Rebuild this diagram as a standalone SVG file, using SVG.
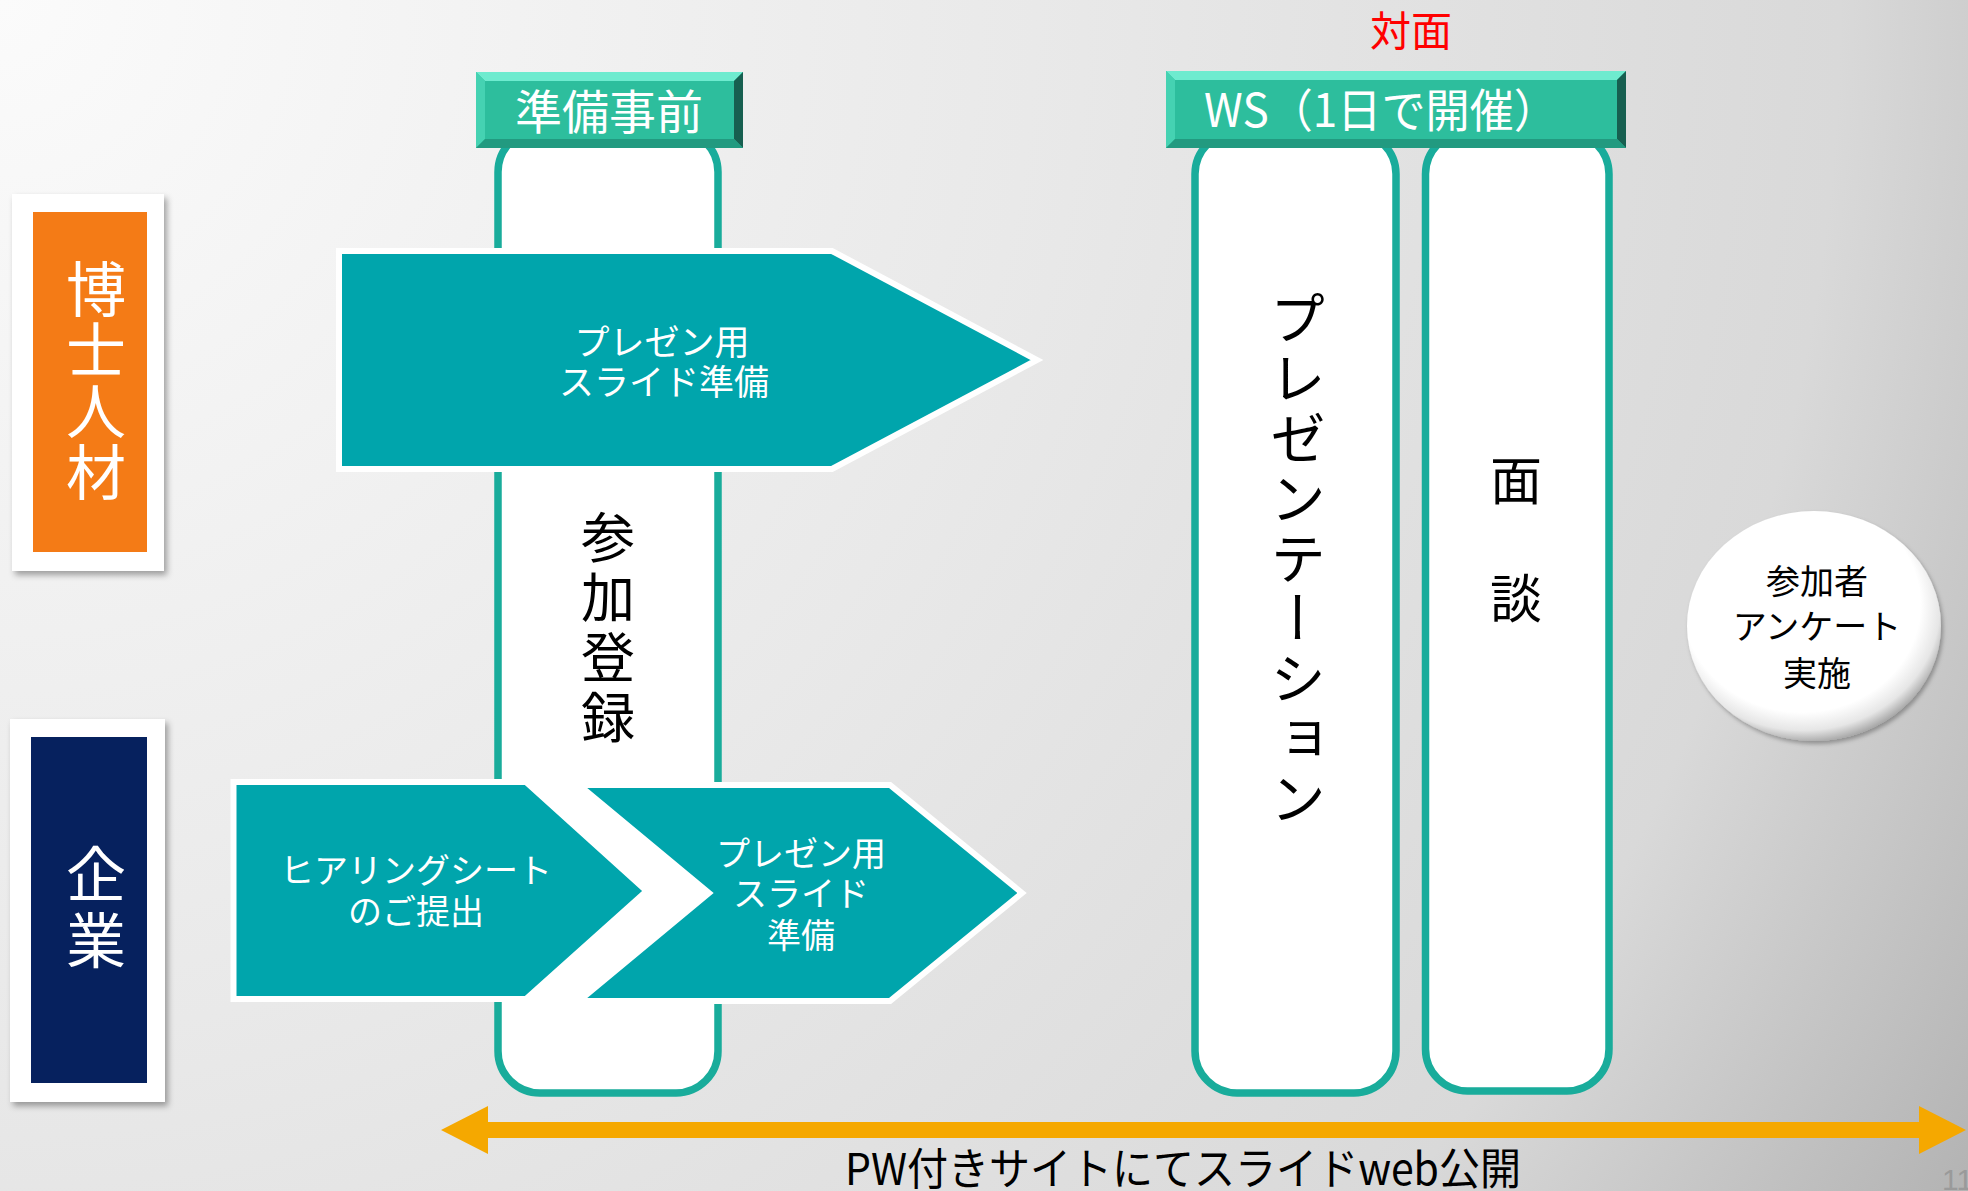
<svg xmlns="http://www.w3.org/2000/svg" width="1968" height="1191" viewBox="0 0 1968 1191">
<defs>
<radialGradient id="bg" cx="0" cy="0" r="2300" gradientUnits="userSpaceOnUse">
<stop offset="0" stop-color="#fbfbfb"/>
<stop offset="0.45" stop-color="#e9e9e9"/>
<stop offset="0.8" stop-color="#d9d9d9"/>
<stop offset="1" stop-color="#b3b3b3"/>
</radialGradient>
<radialGradient id="ball" cx="0.46" cy="0.42" r="0.6" fx="0.42" fy="0.36">
<stop offset="0" stop-color="#ffffff"/>
<stop offset="0.78" stop-color="#ffffff"/>
<stop offset="0.9" stop-color="#e6e6e6"/>
<stop offset="1" stop-color="#9a9a9a"/>
</radialGradient>
<filter id="sh" x="-20%" y="-20%" width="140%" height="140%">
<feDropShadow dx="3" dy="4" stdDeviation="3" flood-color="#000" flood-opacity="0.35"/>
</filter>
<filter id="sh2" x="-20%" y="-20%" width="140%" height="140%">
<feDropShadow dx="2" dy="3" stdDeviation="2" flood-color="#000" flood-opacity="0.3"/>
</filter>
</defs>
<style>
.jp{font-family:"Noto Sans CJK JP","Noto Sans",sans-serif;}
.w{fill:#ffffff;}
.k{fill:#000000;}
.col{fill:#ffffff;stroke:#19AC9B;stroke-width:7.5;}
.arr{fill:#00A5AC;stroke:#ffffff;stroke-width:6;stroke-linejoin:miter;}
.hb{fill:#2DBE9D;}
.ht{fill:#6EEBCF;}
.hl{fill:#45D2B2;}
.hr{fill:#175F50;}
.hbo{fill:#229A80;}
.vt{writing-mode:vertical-rl;}
</style>
<rect x="0" y="0" width="1968" height="1191" fill="url(#bg)"/>

<g id="label-hakase">
<rect x="12" y="194" width="152" height="377" fill="#ffffff" filter="url(#sh)"/>
<rect x="33" y="212" width="114" height="340" fill="#F47B16"/>
<text class="jp w vt" x="96" y="259" font-size="60" letter-spacing="1">博士人材</text>
</g>

<g id="label-kigyo">
<rect x="10" y="719" width="155" height="383" fill="#ffffff" filter="url(#sh)"/>
<rect x="31" y="737" width="116" height="346" fill="#06215E"/>
<text class="jp w vt" x="96" y="844" font-size="60" letter-spacing="6">企業</text>
</g>

<g id="col-sanka">
<rect class="col" x="498" y="130" width="220" height="963" rx="42" ry="42"/>
<text class="jp k vt" x="608" y="510" font-size="54" letter-spacing="6">参加登録</text>
</g>

<g id="col-presen">
<rect class="col" x="1195" y="132" width="201" height="961" rx="42" ry="42"/>
<text class="jp k vt" x="1298" y="290" font-size="56" letter-spacing="4">プレゼンテーション</text>
</g>

<g id="col-mendan">
<rect class="col" x="1425.5" y="132" width="183.5" height="959" rx="42" ry="42"/>
<text class="jp k" x="1516" y="500" font-size="52" text-anchor="middle">面</text>
<text class="jp k" x="1516" y="618" font-size="52" text-anchor="middle">談</text>
</g>

<g id="hdr-jizen">
<rect class="hb" x="476" y="72" width="267" height="76"/>
<polygon class="ht" points="476,72 743,72 734,81 485,81"/>
<polygon class="hl" points="476,72 485,81 485,139 476,148"/>
<polygon class="hr" points="743,72 743,148 734,139 734,81"/>
<polygon class="hbo" points="476,148 743,148 734,139 485,139"/>
<text class="jp w" x="609" y="129" font-size="47" text-anchor="middle">準備事前</text>
</g>

<g id="hdr-ws">
<rect class="hb" x="1166" y="71" width="460" height="77"/>
<polygon class="ht" points="1166,71 1626,71 1617,80 1175,80"/>
<polygon class="hl" points="1166,71 1175,80 1175,139 1166,148"/>
<polygon class="hr" points="1626,71 1626,148 1617,139 1617,80"/>
<polygon class="hbo" points="1166,148 1626,148 1617,139 1175,139"/>
<text class="jp w" x="1204" y="127" font-size="46" textLength="354" lengthAdjust="spacingAndGlyphs">WS（1日で開催）</text>
</g>

<g id="lbl-taimen">
<text class="jp" x="1411" y="46" font-size="41" fill="#FF0000" text-anchor="middle">対面</text>
</g>

<g id="arrow-hakase">
<polygon class="arr" points="339,251 832,251 1037,360 832,469 339,469"/>
<text class="jp w" font-size="35" text-anchor="middle"><tspan x="662" y="355">プレゼン用</tspan><tspan x="664" y="395">スライド準備</tspan></text>
</g>

<g id="arrow-hearing">
<polygon class="arr" points="233.5,782 526,782 646.6,891 526,999 233.5,999"/>
<text class="jp w" font-size="34" text-anchor="middle"><tspan x="416" y="883">ヒアリングシート</tspan><tspan x="416" y="924">のご提出</tspan></text>
</g>

<g id="arrow-kigyo-slide">
<polygon class="arr" points="579,785 890,785 1022,893 890,1001 579,1001 709,893"/>
<text class="jp w" font-size="34" text-anchor="middle"><tspan x="801" y="866">プレゼン用</tspan><tspan x="801" y="906">スライド</tspan><tspan x="801" y="948">準備</tspan></text>
</g>

<g id="survey">
<ellipse cx="1814" cy="626" rx="127" ry="115" fill="url(#ball)" filter="url(#sh2)"/>
<text class="jp k" font-size="34" text-anchor="middle"><tspan x="1817" y="594">参加者</tspan><tspan x="1817" y="639">アンケート</tspan><tspan x="1817" y="686">実施</tspan></text>
</g>

<g id="connectors">
<polygon points="441,1130 488,1106 488,1122 1919,1122 1919,1106 1966,1130 1919,1154 1919,1138 488,1138 488,1154" fill="#F5A800"/>
</g>

<g id="lbl-web">
<text class="jp" x="845" y="1185" font-size="44" fill="#000000" textLength="676" lengthAdjust="spacingAndGlyphs">PW付きサイトにてスライドweb公開</text>
</g>

<text x="1942" y="1190" font-family="Liberation Sans, sans-serif" font-size="30" fill="#9a9a9a">11</text>
</svg>
